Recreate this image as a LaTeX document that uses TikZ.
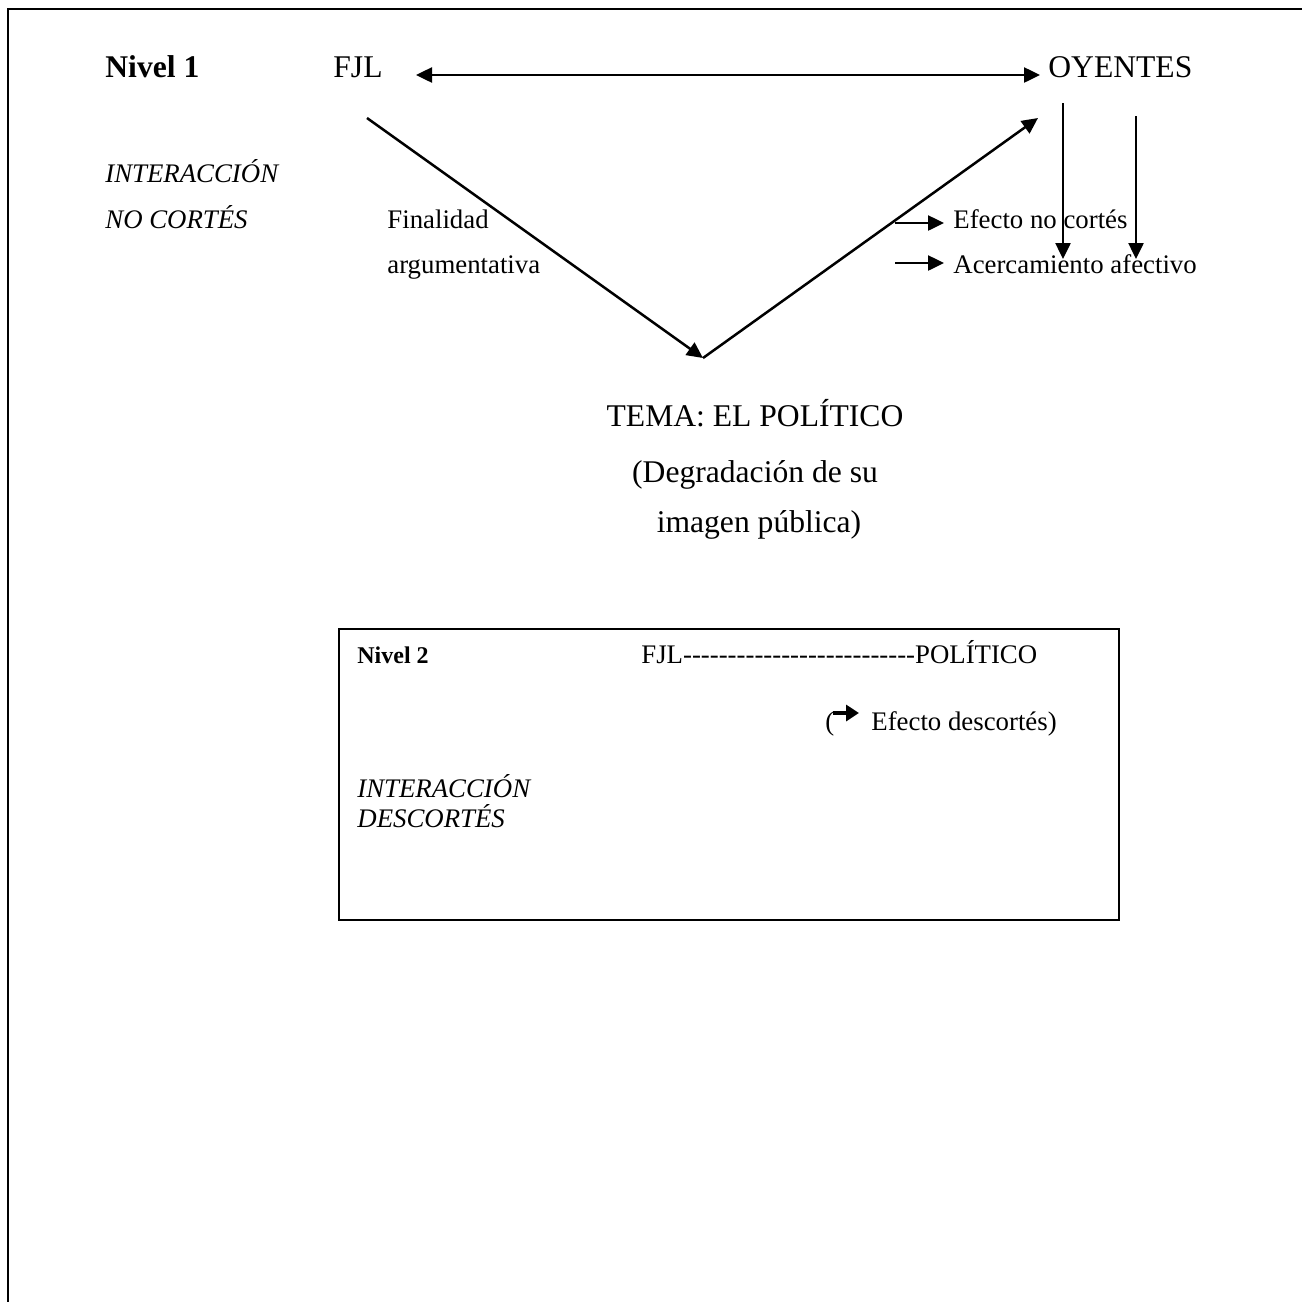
\documentclass[tikz,border=0pt]{standalone}
\usepackage{fontspec}
\setmainfont{Liberation Serif}[Ligatures=TeXOff]
\usetikzlibrary{arrows.meta}
\begin{document}
\begin{tikzpicture}[x=0.5pt,y=-0.5pt,
  txt/.style={inner sep=0pt, anchor=base west},
  big/.style={txt, font=\fontsize{15.8}{19}\selectfont},
  small/.style={txt, font=\fontsize{13.4}{16}\selectfont},
  conn/.style={line width=1.25pt, -{Triangle[length=8pt,width=7.5pt]}},
  twoway/.style={line width=1.25pt, {Triangle[length=8pt,width=7.5pt]}-{Triangle[length=8pt,width=7.5pt]}}]
\useasboundingbox (0,0) rectangle (1302,1302);

% page frame (open at the right and bottom)
\draw[line width=1.3pt] (8,1302) -- (8,9) -- (1302,9);

% ---------- Level 1 ----------
\node[big, font=\fontsize{15.8}{19}\selectfont\bfseries] (niv1) at (105,77) {Nivel 1};
\node[big] (fjl) at (333,77) {FJL};
\node[big] (oyentes) at (1048,77) {OYENTES};

\node[small, font=\fontsize{13.4}{16}\selectfont\itshape] (inter1) at (105,182) {INTERACCIÓN};
\node[small, font=\fontsize{13.4}{16}\selectfont\itshape] (nocortes) at (105,228) {NO CORTÉS};

\node[small] (final) at (387,228) {Finalidad};
\node[small] (argum) at (387,273) {argumentativa};

\node[small] (efecto) at (953,228) {Efecto no cortés};
\node[small] (acerca) at (953,273) {Acercamiento afectivo};

\node[big, anchor=base] (tema) at (755,426) {TEMA: EL POLÍTICO};
\node[big, anchor=base] (degr) at (755,482) {(Degradación de su};
\node[big, anchor=base] (imagen) at (759,532) {imagen pública)};

% connector end points
\coordinate (dL) at (416,75);
\coordinate (dR) at (1040,75);
\coordinate (fjlfoot) at (367,118);
\coordinate (vertex) at (703,358);
\coordinate (oyfoot) at (1038,118);
\coordinate (oyA) at (1063,103);
\coordinate (oyAend) at (1063,259);
\coordinate (oyB) at (1136,116);
\coordinate (oyBend) at (1136,259);
\coordinate (efA) at (895,223);
\coordinate (efAend) at (944,223);
\coordinate (acA) at (895,263);
\coordinate (acAend) at (944,263);

\draw[twoway] (dL) -- (dR);
\draw[conn] (fjlfoot) -- (vertex);
\draw[conn] (vertex) -- (oyfoot);
\draw[conn] (oyA) -- (oyAend);
\draw[conn] (oyB) -- (oyBend);
\draw[conn] (efA) -- (efAend);
\draw[conn] (acA) -- (acAend);

% ---------- Level 2 box ----------
\node[draw, line width=1pt, inner sep=0pt, anchor=north west,
      minimum width=390pt, minimum height=145.5pt] (box2) at (338,628) {};

\node[small, font=\fontsize{12}{14}\selectfont\bfseries] (niv2) at (357,663) {Nivel 2};
\node[small] (fjlpol) at (641,663) {FJL--------------------------POLÍTICO};
\node[small] (paren) at (825,730) {(};
\node[small] (descort) at (871,730) {Efecto descortés)};
\coordinate (dsA) at (833,713);
\coordinate (dsB) at (859,713);
\draw[line width=1.8pt, -{Triangle[length=6.5pt,width=8pt]}] (dsA) -- (dsB);

\node[small, font=\fontsize{13.4}{16}\selectfont\itshape] (inter2) at (357,797) {INTERACCIÓN};
\node[small, font=\fontsize{13.4}{16}\selectfont\itshape] (descort2) at (357,827) {DESCORTÉS};
\end{tikzpicture}
\end{document}
